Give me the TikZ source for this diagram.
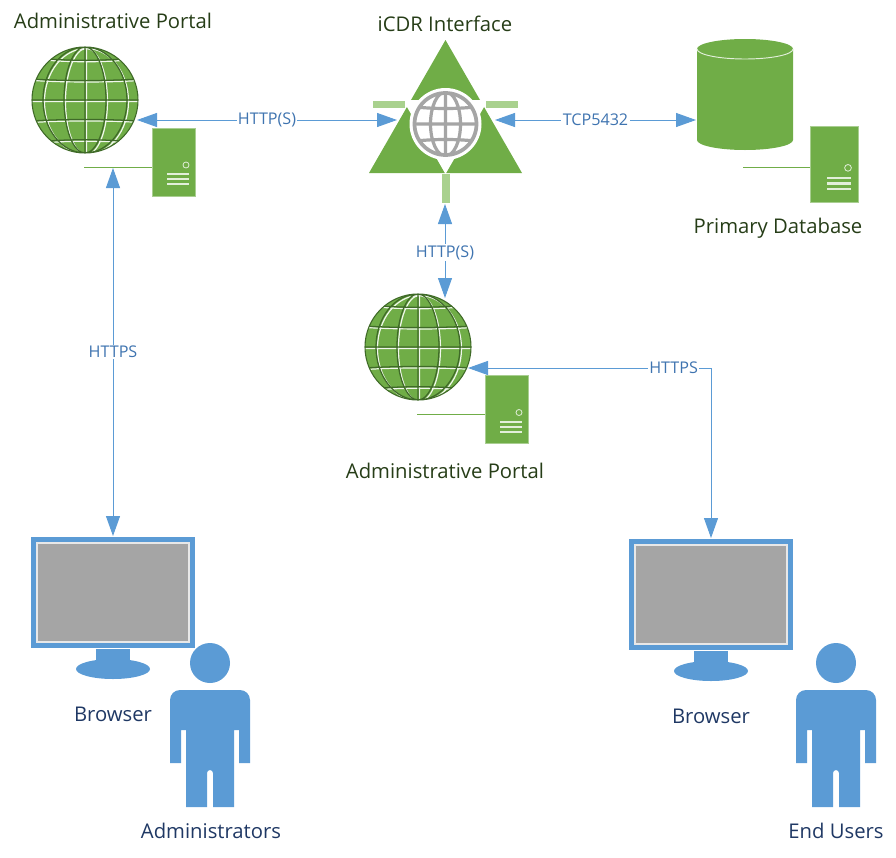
\documentclass[tikz,border=0pt]{standalone}
\usepackage{fontspec}
\setmainfont{Open Sans}
\usetikzlibrary{arrows.meta}

\definecolor{leafgreen}{HTML}{70AD47}
\definecolor{palegreen}{HTML}{A9D18E}
\definecolor{darkgreen}{HTML}{3F6A28}
\definecolor{inkgreen}{HTML}{263D17}
\definecolor{skyblue}{HTML}{5B9BD5}
\definecolor{inkblue}{HTML}{1F3864}
\definecolor{linkblue}{HTML}{3F74B0}
\definecolor{screengray}{HTML}{A5A5A5}

\newcommand{\globegrid}{
  (0,-60) -- (0,60)
  (0,0) ellipse [x radius=21, y radius=53]
  (0,0) ellipse [x radius=42, y radius=53]
  (-60,0) -- (60,0)
  (-53,21) .. controls (-25,19) and (25,19) .. (53,21)
  (-53,-21) .. controls (-25,-19) and (25,-19) .. (53,-21)
  (-45,42) .. controls (-25,39) and (25,39) .. (45,42)
  (-45,-42) .. controls (-25,-39) and (25,-39) .. (45,-42)
}

\tikzset{
  webglobe/.pic={
    \fill[leafgreen] (0,0) circle [radius=53];
    \begin{scope}
      \clip (0,0) circle [radius=53];
      \draw[white!90!leafgreen, line width=.9pt, xshift=1.1pt, yshift=-1.1pt] \globegrid;
      \draw[darkgreen, line width=.95pt] \globegrid;
    \end{scope}
    \draw[darkgreen, line width=.8pt] (0,0) circle [radius=53];
  },
  serverunit/.pic={
    \node[serverbox] (-box) at (0,0) {};
    \draw[white!80!leafgreen, line width=.6pt] (12.5,3) circle [radius=3];
    \foreach \rowy in {12,17,22}
      \fill[white!80!leafgreen] (-6.5,\rowy-1) rectangle (15.5,\rowy+1);
  },
  monitorunit/.pic={
    \fill[skyblue] (-82,-55.5) rectangle (82,55.5);
    \draw[fill=screengray, draw=white!75!screengray, line width=.8pt] (-76,-49.5) rectangle (76,49.5);
    \fill[skyblue] (-17,56.5) rectangle (17,72);
    \fill[skyblue] (0,76.5) ellipse [x radius=37, y radius=10];
  },
  personunit/.pic={
    \fill[skyblue] (0,0) circle [radius=20];
    \fill[skyblue] (-40,37) arc [start angle=180, end angle=90, x radius=10, y radius=-10]
      -- (30,27) arc [start angle=90, end angle=0, x radius=10, y radius=-10]
      -- (40,100) -- (29,100) -- (29,67) -- (24,67) -- (24,144) -- (3,144) -- (3,110)
      arc [start angle=0, end angle=180, x radius=3, y radius=-3]
      -- (-3,144) -- (-24,144) -- (-24,67) -- (-29,67) -- (-29,100) -- (-40,100) -- cycle;
  },
  serverbox/.style={rectangle, fill=leafgreen, draw=white!40!leafgreen, line width=.4pt, transform shape,
    inner sep=0pt, outer sep=0pt, minimum width=32.25pt, minimum height=51pt},
  title/.style={font=\fontsize{15.2pt}{18pt}\selectfont, text=inkgreen, inner sep=0pt, anchor=base},
  caption/.style={font=\fontsize{15.2pt}{18pt}\selectfont, text=inkblue, inner sep=0pt, anchor=base},
  link/.style={{Triangle[length=15pt,width=10.5pt]}-{Triangle[length=15pt,width=10.5pt]}, draw=skyblue, line width=.75pt, color=skyblue},
  proto/.style={fill=white, text=linkblue, font=\fontsize{12.1pt}{14pt}\selectfont, inner sep=1pt},
  stub/.style={draw=leafgreen, line width=.6pt}
}

\begin{document}
\begin{tikzpicture}[x=.75pt, y=-.75pt]
  \useasboundingbox (0,0) rectangle (896,857);

  % Portals
  \pic at (85,100) {webglobe};
  \pic (serverA) at (173.5,162) {serverunit};
  \pic at (418,347) {webglobe};
  \pic (serverB) at (506.5,409.5) {serverunit};

  % iCDR interface
  \fill[leafgreen] (445.5,40) -- (522,173) -- (369,173) -- cycle;
  \fill[white] (403,100) -- (488,100) -- (445.5,174) -- cycle;
  \fill[white] (445.5,124) circle [radius=36];
  \fill[palegreen] (373,101) rectangle (405,108);
  \fill[palegreen] (486,101) rectangle (518,108);
  \fill[palegreen] (442,174) rectangle (449.5,203);
  \begin{scope}
    \clip (445.5,124) circle [radius=32];
    \draw[screengray, line width=2.4pt]
      (445.5,90) -- (445.5,158)
      (445.5,124) ellipse [x radius=15, y radius=32]
      (412,124) -- (479,124)
      (416,107) .. controls (435,109) and (456,109) .. (475,107)
      (416,141) .. controls (435,139) and (456,139) .. (475,141);
  \end{scope}
  \draw[screengray, line width=2.8pt] (445.5,124) circle [radius=31];

  % Database
  \fill[leafgreen] (697,49) arc [start angle=180, end angle=0, x radius=48, y radius=-10]
    -- (793,140) arc [start angle=0, end angle=-180, x radius=48, y radius=-10] -- cycle;
  \draw[white!80!leafgreen, line width=.7pt] (697,49) arc [start angle=180, end angle=360, x radius=48, y radius=-10];
  \pic[scale=1.12] (serverC) at (834,164.5) {serverunit};

  % Browsers and people
  \pic at (113,592.5) {monitorunit};
  \pic at (711,594.5) {monitorunit};
  \pic at (210,663) {personunit};
  \pic at (836,663) {personunit};

  % Labels
  \node[title] (portalAname) at (113,28) {Administrative Portal};
  \node[title] (ifacename) at (445,31) {iCDR Interface};
  \node[title] (dbasename) at (778,233) {Primary Database};
  \node[title] (portalBname) at (445,478) {Administrative Portal};
  \node[caption] (browserAname) at (113,721) {Browser};
  \node[caption] (browserBname) at (711,723) {Browser};
  \node[caption] (adminname) at (211,838) {Administrators};
  \node[caption] (usersname) at (836,838) {End Users};

  % Ports
  \coordinate (portalAeast) at (137,120);
  \coordinate (portalAsouth) at (113,168);
  \coordinate (portalAstub) at (84,167);
  \coordinate (portalBnorth) at (445,298);
  \coordinate (portalBeast) at (468,368);
  \coordinate (portalBstub) at (417,414);
  \coordinate (ifacewest) at (397,120);
  \coordinate (ifaceeast) at (495,120);
  \coordinate (ifacesouth) at (445,204);
  \coordinate (dbasewest) at (696,120);
  \coordinate (dbasestub) at (743,167);
  \coordinate (browserAnorth) at (113,536);
  \coordinate (browserBnorth) at (711,538);

  % Arrows
  \draw[stub] (portalAstub) -- (portalAstub -| serverA-box.west);
  \draw[stub] (portalBstub) -- (portalBstub -| serverB-box.west);
  \draw[stub] (dbasestub) -- (dbasestub -| serverC-box.west);
  \draw[link] (portalAeast) -- (ifacewest) node[proto, midway] {HTTP(S)};
  \draw[link] (ifaceeast) -- (dbasewest) node[proto, midway] {TCP5432};
  \draw[link] (portalAsouth) -- (browserAnorth) node[proto, pos=.5] {HTTPS};
  \draw[link] (ifacesouth) -- (portalBnorth) node[proto, pos=.52] {HTTP(S)};
  \draw[link] (portalBeast) -| (browserBnorth) node[proto, pos=.423] {HTTPS};
\end{tikzpicture}
\end{document}
